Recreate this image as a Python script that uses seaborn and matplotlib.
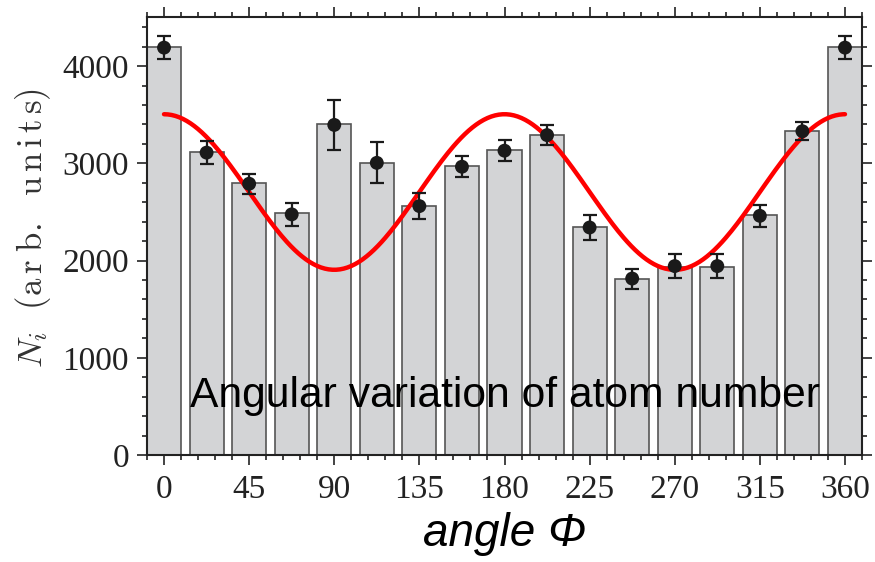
import numpy as np
import pandas as pd
import matplotlib
matplotlib.use("Agg")
import matplotlib.pyplot as plt
from matplotlib.ticker import MultipleLocator
import seaborn as sns

# ---- data ----
angles = [0, 22.5, 45, 67.5, 90, 112.5, 135, 157.5, 180, 202.5,
          225, 247.5, 270, 292.5, 315, 337.5, 360]
bar_counts = [4195, 3115, 2795, 2485, 3400, 3005, 2560, 2970, 3135, 3290,
              2340, 1815, 1930, 1937, 2465, 3330, 4195]
point_counts = [4190, 3110, 2790, 2475, 3395, 3005, 2560, 2965, 3130, 3290,
                2340, 1815, 1943, 1943, 2460, 3330, 4190]
point_err = [120, 115, 105, 115, 260, 210, 130, 110, 105, 105,
             125, 103, 120, 125, 110, 95, 120]
fit_offset = 2705
fit_amplitude = 800
x_ticks = [0, 45, 90, 135, 180, 225, 270, 315, 360]
y_ticks = [0, 1000, 2000, 3000, 4000]
overlay_text = "Angular variation of atom number"

df = pd.DataFrame({"angle": angles, "count": bar_counts})
fit_angle = np.linspace(0, 360, 361)
fit_df = pd.DataFrame({"angle": fit_angle,
                       "N": fit_offset + fit_amplitude * np.cos(np.deg2rad(2 * fit_angle))})

sns.set_style("ticks")
plt.rcParams["mathtext.fontset"] = "cm"

fig = plt.figure(figsize=(8.75, 5.62), dpi=100)
ax = fig.add_axes([147 / 875, 1 - 455 / 562, (862 - 147) / 875, (455 - 17) / 562])

sns.barplot(data=df, x="angle", y="count", native_scale=True, width=0.8,
            color="#d3d4d6", saturation=1, edgecolor="#555555", linewidth=1.2,
            errorbar=None, ax=ax, zorder=1)
sns.lineplot(data=fit_df, x="angle", y="N", color="#ff0000", linewidth=3.2, ax=ax, zorder=3)
ax.errorbar(angles, point_counts, yerr=point_err, fmt="none", ecolor="#1a1a1a",
            elinewidth=1.6, capsize=5, capthick=1.6, zorder=4)
sns.scatterplot(x=angles, y=point_counts, color="#1a1a1a", s=100, edgecolor="none",
                ax=ax, zorder=5)

ax.set_xlim(-9, 369)
ax.set_ylim(0, 4505)
ax.set_xticks(x_ticks)
ax.set_yticks(y_ticks)
ax.xaxis.set_minor_locator(MultipleLocator(9))
ax.yaxis.set_minor_locator(MultipleLocator(200))
ax.tick_params(which="both", direction="out", top=True, right=True,
               color="#222222", width=1.2)
ax.tick_params(which="major", length=7)
ax.tick_params(which="minor", length=3.6)
ax.tick_params(axis="y", which="both", labelright=False, pad=6)
ax.tick_params(axis="x", which="both", labeltop=False, pad=7)
for lab in ax.get_xticklabels() + ax.get_yticklabels():
    lab.set_fontfamily("Liberation Serif")
    lab.set_fontsize(24)
    lab.set_color("#222222")
for sp in ax.spines.values():
    sp.set_visible(True)
    sp.set_color("#222222")
    sp.set_linewidth(1.5)

ax.set_xlabel("angle Φ", fontfamily="Liberation Sans", fontstyle="italic",
              fontsize=33, color="black", va="baseline")
ax.xaxis.set_label_coords(0.5, (455 - 546) / 438)
ax.set_ylabel(r"$N_i\ \ \mathrm{(a\,r\;b.\ \ u\,n\,i\,t\,s)}$",
              fontsize=25, color="#333333", va="center")
ax.yaxis.set_label_coords((33 - 147) / 715, (455 - 228) / 438)

ax.text(0.5, 0.11, overlay_text, transform=ax.transAxes, ha="center", va="baseline",
        fontfamily="Liberation Sans", fontsize=30.7, color="black", zorder=6)

fig.savefig("out.png", dpi=100)
